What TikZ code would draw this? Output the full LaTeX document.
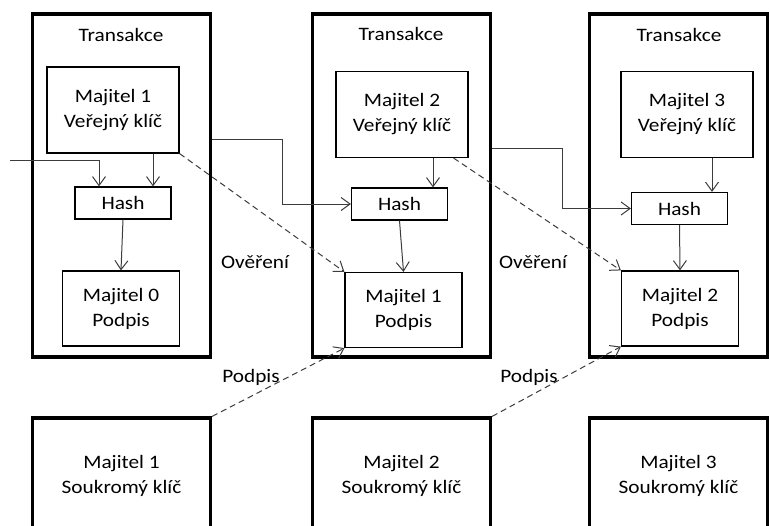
\documentclass[tikz,border=0pt]{standalone}
\usepackage{fontspec}
\setmainfont{Carlito}[FakeStretch=1.12]
\usetikzlibrary{arrows.meta,calc}
\definecolor{linegray}{RGB}{60,60,60}
\tikzset{
  tx-frame/.style={
    draw=black,
    line width=3.2pt,
    inner sep=0pt,
    minimum width=178pt,
    minimum height=343pt
  },
  key-frame/.style={
    tx-frame,
    minimum height=116pt,
    align=center
  },
  box/.style={draw=black, line width=1.2pt, inner sep=0pt, align=center},
  box-pub/.style={box, minimum width=132pt, minimum height=86pt},
  box-hash/.style={box, minimum width=96pt, minimum height=32pt},
  box-sig/.style={box, minimum width=117pt, minimum height=75pt},
  link/.style={draw=linegray, line width=1pt, -{Straight Barb[length=9pt,width=13pt]}},
  link-dashed/.style={link, dash pattern=on 6pt off 4pt}
}

\begin{document}
\begin{tikzpicture}[x=1pt, y=-1pt, font=\fontsize{19}{25}\selectfont]
  \useasboundingbox (0,0) rectangle (770,525);
  % Transaction frames
  \node[tx-frame] (tr1) at (121.5,185.5) {};
  \node[tx-frame] (tr2) at (401.5,185.5) {};
  \node[tx-frame] (tr3) at (678.5,185.5) {};
  \node (title1) at (121,35) {Transakce};
  \node (title2) at (401,34) {Transakce};
  \node (title3) at (679,35) {Transakce};
  % Public keys
  \node[box-pub] (pk1) at (113,110) {Majitel 1\\Veřejný klíč};
  \node[box-pub] (pk2) at (402,114.5) {Majitel 2\\Veřejný klíč};
  \node[box-pub] (pk3) at (687,114.5) {Majitel 3\\Veřejný klíč};
  % Hashes
  \node[box-hash] (h1) at (123,203) {Hash};
  \node[box-hash] (h2) at (399.5,204) {Hash};
  \node[box-hash] (h3) at (679.5,208.5) {Hash};
  % Signatures
  \node[box-sig] (s1) at (121,308.5) {Majitel 0\\Podpis};
  \node[box-sig] (s2) at (403.5,310) {Majitel 1\\Podpis};
  \node[box-sig] (s3) at (680,308.5) {Majitel 2\\Podpis};
  % Private keys
  \node[key-frame] (k1) at (121.5,476) {Majitel 1\\Soukromý klíč};
  \node[key-frame] (k2) at (401.5,476) {Majitel 2\\Soukromý klíč};
  \node[key-frame] (k3) at (678.5,476) {Majitel 3\\Soukromý klíč};
  % Hash inputs
  \coordinate (in) at (10,160);
  \draw[link] (in) -| ([xshift=-24pt]h1.north);
  \draw[link] ([xshift=30pt]h1.north |- pk1.south) -- ([xshift=30pt]h1.north);
  \draw[link] (h1.south) -- (s1.north);
  \draw[link] (tr1.east |- 0,139) -- (282,139) |- (h2.west);
  \draw[link] ([xshift=33.5pt]h2.north |- pk2.south) -- ([xshift=33.5pt]h2.north);
  \draw[link] (h2.south) -- (s2.north);
  \draw[link] (tr2.east |- 0,148) -- (562,148) |- (h3.west);
  \draw[link] ([xshift=32.5pt]h3.north |- pk3.south) -- ([xshift=32.5pt]h3.north);
  \draw[link] (h3.south) -- (s3.north);
  % Verification and signing
  \draw[link-dashed] (pk1.south east) -- (s2.north west);
  \draw[link-dashed] ([xshift=-15pt]pk2.south east) -- (s3.north west);
  \draw[link-dashed] (k1.north east) -- (s2.south west);
  \draw[link-dashed] (k2.north east) -- (s3.south west);
  \node (verify1) at (255,262) {Ověření};
  \node (verify2) at (533,262) {Ověření};
  \node (sign1) at (251,377) {Podpis};
  \node (sign2) at (529,377) {Podpis};
\end{tikzpicture}
\end{document}
